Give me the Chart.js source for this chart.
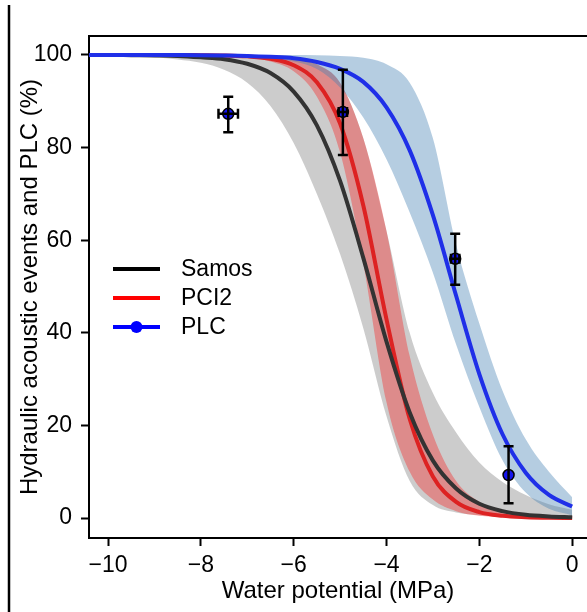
<!DOCTYPE html>
<html>
<head>
<meta charset="utf-8">
<script src="https://cdn.jsdelivr.net/npm/chart.js@4"></script>
<style>
html, body { margin: 0; padding: 0; background: #fff; overflow: hidden; }
canvas { display: block; }
</style>
</head>
<body>
<canvas id="chart" width="587" height="612"></canvas>
<script>
// water potential grid (MPa) the fitted curves were read at
const waterPotential = [-10.5, -10, -9.5, -9, -8.5, -8, -7.5, -7, -6.5, -6, -5.5, -5, -4.5, -4, -3.5, -3, -2.5, -2, -1.5, -1, -0.5, 0];

// Samos fit and its band
const samos     = [100, 100, 99.95, 99.9, 99.8, 99.5, 99.1, 98.1, 96.1, 92.1, 84.8, 72.8, 56.2, 38.1, 22.8, 12.4, 6.4, 3.1, 1.5, 0.7, 0.35, 0.17];
const samosLow  = [100, 99.9, 99.8, 99.5, 99, 98.3, 96.8, 94, 89, 81, 70, 57, 41, 22, 8, 2.8, 1.2, 0.6, 0.3, 0.1, 0, 0];
const samosHigh = [100, 100, 100, 100, 100, 100, 99.95, 99.9, 99.7, 99.3, 98, 94, 82, 62, 40, 27, 18.5, 12, 7.8, 5, 3, 1.8];

// PCI2 fit and its band
const pci2     = [100, 100, 100, 100, 100, 99.96, 99.9, 99.7, 99.2, 97.8, 94.1, 85.2, 67.5, 42.9, 21.4, 9.0, 3.5, 1.3, 0.5, 0.2, 0.06, 0.02];
const pci2Low  = [100, 100, 100, 100, 99.95, 99.9, 99.8, 99.5, 98.6, 96.5, 91, 79, 55, 25, 10, 4, 1.5, 0.5, 0.2, 0.1, 0, 0];
const pci2High = [100, 100, 100, 100, 100, 100, 99.95, 99.9, 99.7, 99.3, 98, 94, 82, 62, 35, 18, 8, 3.5, 1.5, 0.6, 0.3, 0.1];

// PLC fit and its band
const plc     = [100, 100, 100, 99.99, 99.98, 99.96, 99.9, 99.8, 99.6, 99.3, 98.5, 97.0, 94.2, 88.7, 79.4, 65.4, 48.0, 31.1, 18.1, 9.8, 5.0, 2.5];
const plcLow  = [100, 100, 99.98, 99.95, 99.9, 99.8, 99.7, 99.5, 99.2, 98.6, 97, 93, 86.5, 77.5, 66, 53, 37.5, 24, 12.5, 5.5, 2, 0.6];
const plcHigh = [100, 100, 100, 100, 100, 100, 100, 100, 100, 100, 99.95, 99.8, 99.4, 98, 94, 82, 59, 42, 27.5, 17, 10, 4.5];

// measured PLC points with error bars
const obsX     = [-7.41, -4.94, -2.52, -1.37];
const obsXLow  = [-7.62, -5.03, -2.61, -1.37];
const obsXHigh = [-7.20, -4.85, -2.43, -1.37];
const obsY     = [87.3, 87.7, 56.0, 9.3];
const obsYLow  = [83.3, 78.4, 50.4, 3.2];
const obsYHigh = [91.0, 96.8, 61.4, 15.5];

const xTicks = [-10, -8, -6, -4, -2, 0];
const yTicks = [0, 20, 40, 60, 80, 100];

const legendItems = [
    { label: 'Samos', color: '#000000', dot: false },
    { label: 'PCI2', color: '#ff0000', dot: false },
    { label: 'PLC', color: '#0000ff', dot: true }
];

const pts = (ys) => waterPotential.map((x, i) => ({ x: x, y: ys[i] }));

function edge(ys, order) {
    return { data: pts(ys), borderWidth: 0, borderColor: 'transparent', pointRadius: 0, fill: false, order: order, cubicInterpolationMode: 'monotone' };
}
function band(ys, color, order) {
    return { data: pts(ys), borderWidth: 0, borderColor: 'transparent', pointRadius: 0, fill: '-1', backgroundColor: color, order: order, cubicInterpolationMode: 'monotone' };
}
function curve(ys, color, width, order) {
    return { data: pts(ys), borderColor: color, borderWidth: width, pointRadius: 0, fill: false, order: order, cubicInterpolationMode: 'monotone' };
}

const FONT = '"Liberation Sans", Arial, sans-serif';
Chart.defaults.font.family = FONT;
Chart.defaults.color = '#000';

const minus = (v) => (v < 0 ? '\u2212' + Math.abs(v) : String(v));

const errorBars = {
    id: 'errorBars',
    afterDatasetsDraw(chart) {
        const { ctx, scales: { x, y } } = chart;
        ctx.save();
        ctx.strokeStyle = '#000';
        ctx.lineWidth = 2.5;
        const cap = 5;
        for (let i = 0; i < obsX.length; i++) {
            const px = x.getPixelForValue(obsX[i]);
            const py = y.getPixelForValue(obsY[i]);
            const yl = y.getPixelForValue(obsYLow[i]);
            const yh = y.getPixelForValue(obsYHigh[i]);
            ctx.beginPath();
            ctx.moveTo(px, yl); ctx.lineTo(px, yh);
            ctx.moveTo(px - cap, yl); ctx.lineTo(px + cap, yl);
            ctx.moveTo(px - cap, yh); ctx.lineTo(px + cap, yh);
            if (obsXLow[i] !== obsXHigh[i]) {
                const xl = x.getPixelForValue(obsXLow[i]);
                const xh = x.getPixelForValue(obsXHigh[i]);
                ctx.moveTo(xl, py); ctx.lineTo(xh, py);
                ctx.moveTo(xl, py - cap); ctx.lineTo(xl, py + cap);
                ctx.moveTo(xh, py - cap); ctx.lineTo(xh, py + cap);
            }
            ctx.stroke();
        }
        ctx.restore();
    }
};

const frameAndLegend = {
    id: 'frameAndLegend',
    afterDraw(chart) {
        const { ctx, chartArea: a, width, height } = chart;
        ctx.save();
        ctx.strokeStyle = '#000';
        // panel border on the far left and top edge of the box
        ctx.lineWidth = 2.5;
        ctx.beginPath();
        ctx.moveTo(9, 5); ctx.lineTo(9, height);
        ctx.stroke();
        ctx.lineWidth = 2;
        ctx.beginPath();
        ctx.moveTo(a.left, a.top); ctx.lineTo(width, a.top);
        ctx.stroke();

        // legend
        ctx.font = '23px ' + FONT;
        ctx.textBaseline = 'middle';
        ctx.textAlign = 'left';
        legendItems.forEach((item, i) => {
            const ly = a.top + 233 + i * 29;
            const x0 = a.left + 24, x1 = a.left + 71;
            ctx.strokeStyle = item.color;
            ctx.lineWidth = 4;
            ctx.beginPath();
            ctx.moveTo(x0, ly); ctx.lineTo(x1, ly);
            ctx.stroke();
            if (item.dot) {
                ctx.fillStyle = item.color;
                ctx.beginPath();
                ctx.arc((x0 + x1) / 2, ly, 6, 0, Math.PI * 2);
                ctx.fill();
            }
            ctx.fillStyle = '#000';
            ctx.fillText(item.label, a.left + 92, ly + 1);
        });
        ctx.restore();
    }
};

new Chart(document.getElementById('chart'), {
    type: 'line',
    data: {
        datasets: [
            edge(samosLow, 12),
            band(samosHigh, 'rgba(170,170,170,0.6)', 11),
            edge(pci2Low, 10),
            band(pci2High, 'rgba(255,0,0,0.32)', 9),
            edge(plcLow, 8),
            band(plcHigh, 'rgba(70,130,180,0.4)', 7),
            curve(pci2, '#dd2222', 4, 5),
            curve(samos, '#333333', 4, 4),
            curve(plc, '#1f2fe8', 4, 3),
            {
                data: obsX.map((x, i) => ({ x: x, y: obsY[i] })),
                showLine: false,
                pointRadius: 5.5,
                pointBackgroundColor: '#1515ee',
                pointBorderColor: '#000',
                pointBorderWidth: 1.5,
                order: 1
            }
        ]
    },
    options: {
        responsive: false,
        animation: false,
        layout: { autoPadding: false, padding: { top: 36, left: 0, right: 0, bottom: 0 } },
        plugins: { legend: { display: false }, tooltip: { enabled: false } },
        scales: {
            x: {
                type: 'linear',
                min: -10.41,
                max: 0.32,
                afterFit: (s) => { s.height = 74; },
                afterBuildTicks: (s) => { s.ticks = xTicks.map(v => ({ value: v })); },
                ticks: { font: { size: 23 }, padding: 6, callback: minus, color: '#000' },
                grid: { drawOnChartArea: false, drawTicks: true, tickLength: 8, tickColor: '#000', tickWidth: 2 },
                border: { display: true, color: '#000', width: 2 },
                title: { display: true, text: 'Water potential (MPa)', font: { size: 24 }, padding: { top: 0, bottom: 6 }, color: '#000' }
            },
            y: {
                min: -4.3,
                max: 104.1,
                afterFit: (s) => { s.width = 89; },
                afterBuildTicks: (s) => { s.ticks = yTicks.map(v => ({ value: v })); },
                ticks: { font: { size: 23 }, padding: 9, color: '#000' },
                grid: { drawOnChartArea: false, drawTicks: true, tickLength: 8, tickColor: '#000', tickWidth: 2 },
                border: { display: true, color: '#000', width: 2 },
                title: { display: true, text: 'Hydraulic acoustic events and PLC (%)', font: { size: 24 }, padding: { top: 16, bottom: 0 }, color: '#000' }
            }
        }
    },
    plugins: [errorBars, frameAndLegend]
});
</script>
</body>
</html>
